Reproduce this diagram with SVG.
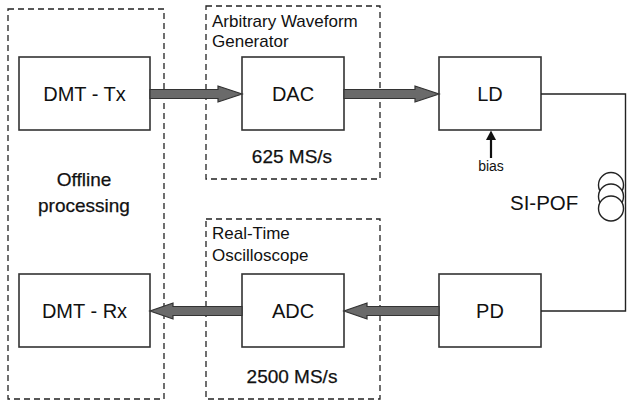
<svg xmlns="http://www.w3.org/2000/svg" width="627" height="403" viewBox="0 0 627 403">
<defs>
<style>
.grp{fill:none;stroke:#222;stroke-width:1.3;stroke-dasharray:6,4}
.box{fill:#fff;stroke:#333;stroke-width:1.6}
.t{font-family:"Liberation Sans",Arial,sans-serif;fill:#111}
.big{font-size:20px;text-anchor:middle}
.lbl{font-size:17px}
.rate{font-size:19px;text-anchor:middle;fill:#111;stroke:#111;stroke-width:0.25}
.arrow{fill:#6a6a6a;stroke:#333;stroke-width:1.2;stroke-linejoin:miter}
.wire{fill:none;stroke:#222;stroke-width:1.4}
.coil{fill:#fff;stroke:#222;stroke-width:1.4}
</style>
</defs>
<rect width="627" height="403" fill="#fff"/>

<g id="offline">
<rect class="grp" x="8" y="9" width="156" height="390"/>
<text class="t rate" x="84" y="186">Offline</text>
<text class="t rate" x="84" y="212">processing</text>
</g>

<g id="awg">
<rect class="grp" x="206" y="6" width="174" height="173"/>
<text class="t lbl" x="212" y="27">Arbitrary Waveform</text>
<text class="t lbl" x="212" y="47">Generator</text>
<text class="t rate" x="292" y="163">625 MS/s</text>
</g>

<g id="rto">
<rect class="grp" x="206" y="219" width="174" height="180"/>
<text class="t lbl" x="212" y="239">Real-Time</text>
<text class="t lbl" x="212" y="261">Oscilloscope</text>
<text class="t rate" x="292" y="383">2500 MS/s</text>
</g>

<g id="dmt-tx">
<rect class="box" x="19" y="57" width="131" height="73"/>
<text class="t big" x="84.5" y="101">DMT - Tx</text>
</g>
<g id="dmt-rx">
<rect class="box" x="19" y="274" width="131" height="73"/>
<text class="t big" x="84.5" y="318">DMT - Rx</text>
</g>
<g id="dac">
<rect class="box" x="242" y="57" width="102" height="73"/>
<text class="t big" x="293" y="101">DAC</text>
</g>
<g id="adc">
<rect class="box" x="242" y="274" width="102" height="73"/>
<text class="t big" x="293" y="318">ADC</text>
</g>
<g id="ld">
<rect class="box" x="439" y="57" width="102" height="73"/>
<text class="t big" x="490" y="101">LD</text>
</g>
<g id="pd">
<rect class="box" x="439" y="274" width="102" height="73"/>
<text class="t big" x="490" y="318">PD</text>
</g>

<g id="fiber">
<text class="t" x="510" y="210" font-size="20.5px">SI-POF</text>
</g>

<g id="connectors">
<path class="arrow" d="M150,89.5 H218 V86 L242,94 L218,102 V98.5 H150 Z"/>
<path class="arrow" d="M344,89.5 H415 V86 L439,94 L415,102 V98.5 H344 Z"/>
<path class="arrow" d="M439,306.5 H367 V303 L344,311 L367,319 V315.5 H439 Z"/>
<path class="arrow" d="M242,306.5 H173 V303 L150,311 L173,319 V315.5 H242 Z"/>
<path class="wire" d="M541,94 H625.5 V311 H541"/>
<circle class="coil" cx="611" cy="185" r="12.5"/>
<circle class="coil" cx="611" cy="196.5" r="12.5"/>
<circle class="coil" cx="611" cy="208.5" r="12.5"/>
<line x1="491" y1="158" x2="491" y2="138" stroke="#111" stroke-width="2.2"/>
<path d="M486,140 L491,130.5 L496,140 Z" fill="#111"/>
<text class="t" x="491" y="171" font-size="14px" text-anchor="middle">bias</text>
</g>
</svg>
